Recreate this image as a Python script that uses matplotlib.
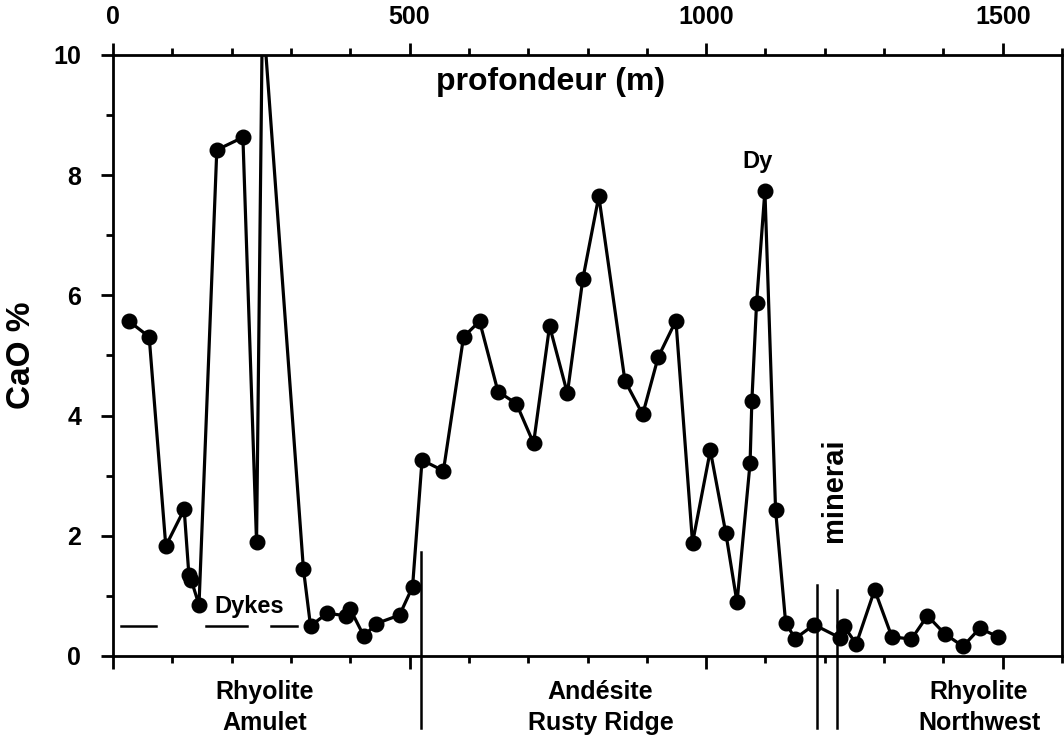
import matplotlib
matplotlib.use("Agg")
import matplotlib.pyplot as plt
from matplotlib.ticker import MultipleLocator

plt.rcParams["font.family"] = ["Liberation Sans", "DejaVu Sans"]
plt.rcParams["font.weight"] = "bold"

# CaO (%) along the drill hole, depth in metres
depth = [27, 61, 89, 120, 128, 132, 145, 175, 219, 242, 252, 321, 333, 361,
         393, 400, 423, 444, 483, 505, 521, 557, 591, 618, 649, 680, 709, 736,
         766, 792, 819, 863, 893, 919, 949, 977, 1007, 1033, 1052, 1074, 1077,
         1085, 1099, 1117, 1134, 1150, 1182, 1226, 1232, 1253, 1284, 1313,
         1346, 1373, 1402, 1433, 1461, 1492]
cao = [5.57, 5.31, 1.83, 2.44, 1.34, 1.26, 0.85, 8.42, 8.63, 1.89, 10.8,
       1.45, 0.50, 0.71, 0.67, 0.78, 0.33, 0.54, 0.68, 1.15, 3.26, 3.08, 5.31,
       5.57, 4.40, 4.20, 3.54, 5.49, 4.37, 6.27, 7.65, 4.58, 4.02, 4.97, 5.58,
       1.88, 3.42, 2.05, 0.89, 3.21, 4.24, 5.88, 7.74, 2.43, 0.55, 0.29, 0.52,
       0.30, 0.50, 0.20, 1.10, 0.32, 0.28, 0.67, 0.37, 0.16, 0.46, 0.32]

# dyke intervals (start, end) drawn at CaO = 0.5
dykes = [(13, 72), (157, 226), (267, 310)]
dyke_level = 0.5

# unit boundaries: depth, top of line
boundaries = [(520, 1.73), (1186, 1.18), (1221, 1.09)]

units = ["Rhyolite\nAmulet", "Andésite\nRusty Ridge", "Rhyolite\nNorthwest"]
unit_x = [256, 822, 1460]

fig = plt.figure(figsize=(10.64, 7.44), dpi=100)
ax = fig.add_axes([0.1062, 0.1183, 0.892, 0.8078])

ax.plot(depth, cao, "-o", color="black", lw=2.3, ms=10.5, clip_on=True)
for a, b in dykes:
    ax.plot([a, b], [dyke_level, dyke_level], color="black", lw=1.8)
for x, top in boundaries:
    ax.plot([x, x], [top, -1.2], color="black", lw=1.8, clip_on=False)

ax.set_xlim(0, 1600)
ax.set_ylim(0, 10)
ax.xaxis.set_major_locator(MultipleLocator(500))
ax.xaxis.set_minor_locator(MultipleLocator(100))
ax.yaxis.set_major_locator(MultipleLocator(2))
ax.yaxis.set_minor_locator(MultipleLocator(1))
ax.xaxis.tick_top()
ax.tick_params(axis="x", which="both", top=True, bottom=True, labeltop=True,
               labelbottom=False, direction="out", labelsize=18, pad=10)
ax.tick_params(axis="x", which="major", length=9, width=2)
ax.tick_params(axis="x", which="minor", length=5, width=2)
ax.tick_params(axis="y", which="both", direction="out", labelsize=18, pad=14)
ax.tick_params(axis="y", which="major", length=9, width=2)
ax.tick_params(axis="y", which="minor", length=5, width=2)
for s in ax.spines.values():
    s.set_linewidth(2)

ax.set_ylabel("CaO %", fontsize=24, fontweight="bold", labelpad=12)

ax.text(737, 9.55, "profondeur (m)", fontsize=23, ha="center", va="center")
ax.text(230, 0.83, "Dykes", fontsize=17, ha="center", va="center")
ax.text(1086, 8.22, "Dy", fontsize=17, ha="center", va="center")
ax.text(1215, 2.76, "minerai", fontsize=21, ha="center", va="center",
        rotation=90)
for x, name in zip(unit_x, units):
    ax.text(x, -0.86, name, fontsize=18, ha="center", va="center",
            linespacing=1.4, clip_on=False)

fig.savefig("out.png", dpi=100)
